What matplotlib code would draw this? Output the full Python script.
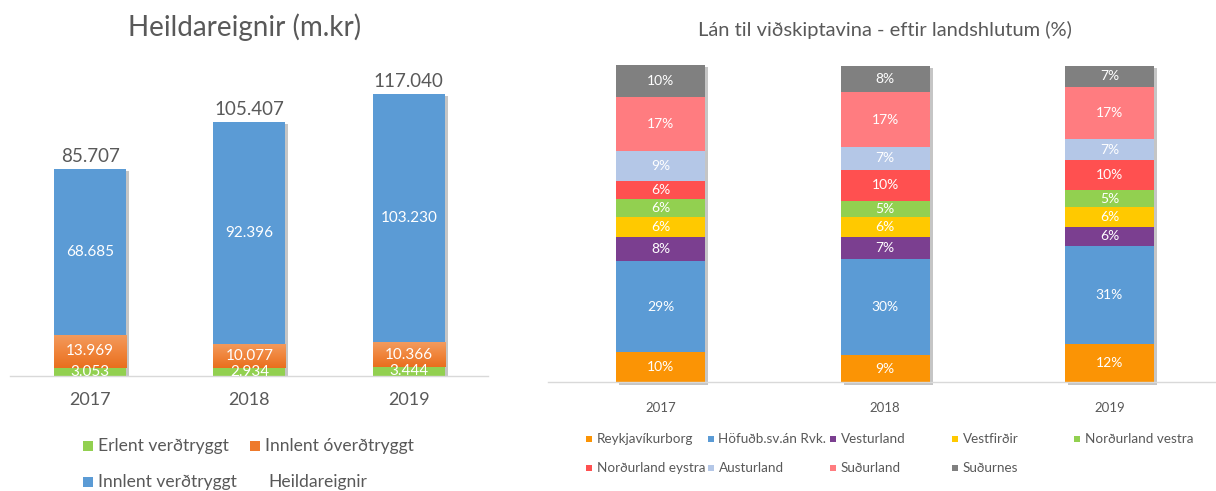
import matplotlib
matplotlib.use("Agg")
import matplotlib.pyplot as plt
import matplotlib.patheffects as pe
from matplotlib.patches import Rectangle
from matplotlib.colors import LinearSegmentedColormap
import numpy as np

plt.rcParams['font.family'] = ['Lato', 'DejaVu Sans']

# ---------------- data: left chart ----------------
years = ["2017", "2018", "2019"]
erlent_verdtryggt = [3053, 2934, 3444]
innlent_overdtryggt = [13969, 10077, 10366]
innlent_verdtryggt = [68685, 92396, 103230]
heildareignir = [85707, 105407, 117040]
left_title = "Heildareignir (m.kr)"
left_series_names = ["Erlent verðtryggt", "Innlent óverðtryggt", "Innlent verðtryggt", "Heildareignir"]

# ---------------- data: right chart ----------------
right_title = "Lán til viðskiptavina - eftir landshlutum (%)"
regions = ["Reykjavíkurborg", "Höfuðb.sv.án Rvk.", "Vesturland", "Vestfirðir",
           "Norðurland vestra", "Norðurland eystra", "Austurland", "Suðurland", "Suðurnes"]
share_2017 = [9.6, 28.6, 7.6, 6.3, 5.8, 5.6, 9.4, 17.2, 10.1]
share_2018 = [8.7, 30.3, 7.0, 6.1, 5.2, 9.9, 7.2, 17.2, 8.4]
share_2019 = [12.0, 31.1, 6.1, 6.3, 5.1, 9.6, 6.6, 16.6, 6.6]

# ---------------- styles ----------------
W, H = 1216, 491
TXT = "#595959"
AXLINE = "#D9D9D9"
left_colors = ["#92D050", "#EE7A2C", "#5B9BD5"]
orange_grad = LinearSegmentedColormap.from_list("og", ["#E96F1E", "#F0853C", "#F39B5E"])
region_colors = ["#FB9405", "#5B9BD5", "#7B3F90", "#FFC900", "#92D050",
                 "#FF5050", "#B4C7E7", "#FF7C80", "#808080"]

fig = plt.figure(figsize=(W / 100, H / 100), dpi=100)

def fx(px):
    return px / W

def fy(py):
    return 1 - py / H

shadow = [pe.SimplePatchShadow(offset=(2.2, -1.6), shadow_rgbFace="#7f7f7f", alpha=0.45)]

# ================= LEFT CHART =================
lx0, lx1 = 10.4, 488.4
lbase = 375.5
ltop = lbase - 140000 * 0.002408
axL = fig.add_axes([fx(lx0), fy(lbase), fx(lx1 - lx0), (lbase - ltop) / H])
x = np.arange(len(years))
bw = 72 / 159.3
axL.bar(x, heildareignir, width=bw, color="none", path_effects=shadow, zorder=1)
bottom = np.zeros(len(years))
stack = [erlent_verdtryggt, innlent_overdtryggt, innlent_verdtryggt]
grad = np.linspace(0, 1, 64).reshape(-1, 1)
for k, (vals, col) in enumerate(zip(stack, left_colors)):
    bars = axL.bar(x, vals, width=bw, bottom=bottom, color=col, zorder=2)
    if k == 1:
        for rect in bars:
            im = axL.imshow(grad, cmap=orange_grad, origin="lower", aspect="auto",
                            extent=(rect.get_x(), rect.get_x() + rect.get_width(),
                                    rect.get_y(), rect.get_y() + rect.get_height()),
                            zorder=2.1, interpolation="bilinear")
            im.set_clip_path(rect)
    for xi, v, b in zip(x, vals, bottom):
        axL.text(xi, b + v / 2, f"{v:,}".replace(",", "."), ha="center", va="center",
                 color="white", fontsize=11, zorder=3)
    bottom += np.array(vals)
for xi, t in zip(x, heildareignir):
    axL.annotate(f"{t:,}".replace(",", "."), (xi, t), xytext=(0, 5), textcoords="offset points",
                 ha="center", va="baseline", color=TXT, fontsize=13.5)
axL.set_xlim(-0.5, 2.5)
axL.set_ylim(0, 140000)
for s in ["top", "right", "left"]:
    axL.spines[s].set_visible(False)
axL.spines["bottom"].set_color(AXLINE)
axL.spines["bottom"].set_linewidth(1.0)
axL.set_yticks([])
axL.set_xticks(x)
axL.set_xticklabels(years, color=TXT, fontsize=13)
axL.tick_params(axis="x", length=0, pad=12)
axL.set_zorder(1)

fig.text(fx(245), fy(27), left_title, ha="center", va="center", color=TXT, fontsize=20)

# left legend (manual)
leg_items = [(83, 445.5, left_colors[0], left_series_names[0]),
             (250, 445.5, left_colors[1], left_series_names[1]),
             (83, 482, left_colors[2], left_series_names[2]),
             (250, 482, None, left_series_names[3])]
for mx, my, col, name in leg_items:
    if col is not None:
        fig.add_artist(Rectangle((fx(mx), fy(my + 5)), 10 / W, 10 / H, transform=fig.transFigure,
                                 facecolor=col, edgecolor="none"))
    fig.text(fx(mx + 15 if col is not None else mx + 18), fy(my), name, ha="left", va="center",
             color=TXT, fontsize=12.6)

# ================= RIGHT CHART =================
rx0 = 548.25
spacing = 224.5
rbase = 382.3
rtop = 65.7
axR = fig.add_axes([fx(rx0), fy(rbase), fx(3 * spacing), (rbase - rtop) / H])
shares = np.array([share_2017, share_2018, share_2019])  # years x regions
xr = np.arange(len(years))
bwr = 89 / spacing
axR.bar(xr, shares.sum(axis=1), width=bwr, color="none", path_effects=shadow, zorder=1, clip_on=False)
bottom = np.zeros(len(years))
for j, (reg, col) in enumerate(zip(regions, region_colors)):
    vals = shares[:, j]
    axR.bar(xr, vals, width=bwr, bottom=bottom, color=col, zorder=2, clip_on=False)
    for xi, v, b in zip(xr, vals, bottom):
        axR.text(xi, b + v / 2, f"{v:.0f}%", ha="center", va="center", color="white",
                 fontsize=10, zorder=3)
    bottom += vals
axR.set_xlim(-0.5, 2.5)
axR.set_ylim(0, 100)
for s in ["top", "right", "left"]:
    axR.spines[s].set_visible(False)
axR.spines["bottom"].set_color(AXLINE)
axR.spines["bottom"].set_linewidth(1.0)
axR.set_yticks([])
axR.set_xticks(xr)
axR.set_xticklabels(years, color=TXT, fontsize=9.5)
axR.tick_params(axis="x", length=0, pad=14)

fig.text(fx(885), fy(30), right_title, ha="center", va="center", color=TXT, fontsize=14.5)

# right legend (manual)
col_x = [586, 707.5, 830, 952, 1074]
row_y = [439, 467.5]
for i, (reg, col) in enumerate(zip(regions, region_colors)):
    r, c = divmod(i, 5)
    mx, my = col_x[c], row_y[r]
    fig.add_artist(Rectangle((fx(mx), fy(my + 3)), 6 / W, 6 / H, transform=fig.transFigure,
                             facecolor=col, edgecolor="none"))
    fig.text(fx(mx + 11), fy(my), reg, ha="left", va="center", color=TXT, fontsize=9.7)

fig.savefig("out.png", dpi=100)
